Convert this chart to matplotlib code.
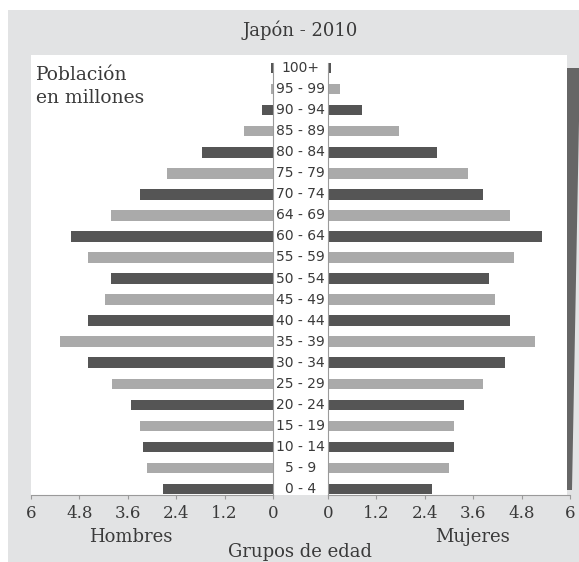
import matplotlib
matplotlib.use("Agg")
import matplotlib.pyplot as plt
from matplotlib.patches import Rectangle, Polygon
from matplotlib.transforms import blended_transform_factory

# Datos: poblacion en millones por grupo de edad (de abajo hacia arriba)
grupos = ["0 - 4", "5 - 9", "10 - 14", "15 - 19", "20 - 24", "25 - 29",
          "30 - 34", "35 - 39", "40 - 44", "45 - 49", "50 - 54", "55 - 59",
          "60 - 64", "64 - 69", "70 - 74", "75 - 79", "80 - 84", "85 - 89",
          "90 - 94", "95 - 99", "100+"]
hombres = [2.73, 3.12, 3.23, 3.30, 3.52, 4.00, 4.59, 5.28, 4.59, 4.17, 4.02,
           4.59, 5.01, 4.02, 3.30, 2.63, 1.76, 0.72, 0.27, 0.05, 0.04]
mujeres = [2.58, 3.00, 3.13, 3.13, 3.37, 3.85, 4.39, 5.14, 4.52, 4.14, 4.00,
           4.62, 5.31, 4.52, 3.85, 3.47, 2.70, 1.76, 0.84, 0.30, 0.07]
ticks = [0, 1.2, 2.4, 3.6, 4.8, 6]
tick_labels = ["0", "1.2", "2.4", "3.6", "4.8", "6"]

W, H = 579, 562
OSCURO = "#555555"
CLARO = "#aaaaaa"
FONDO = "#e2e3e4"
TEXTO = "#3a3a3a"
LINEA = "#9a9a9a"
SERIF = "DejaVu Serif"


def fx(px):
    return px / W


def fy(py):
    return 1 - py / H


colores = [OSCURO if i % 2 == 0 else CLARO for i in range(len(grupos))]
pos = list(range(len(grupos)))

fig = plt.figure(figsize=(W / 100, H / 100), dpi=100)
fig.patch.set_facecolor("white")

# fondo gris y panel blanco
fig.add_artist(Rectangle((fx(8), 0), 1, fy(10), transform=fig.transFigure,
                         facecolor=FONDO, edgecolor="none", zorder=0))
fig.add_artist(Rectangle((fx(31), fy(495)), fx(567) - fx(31), fy(55) - fy(495),
                         transform=fig.transFigure, facecolor="white",
                         edgecolor="none", zorder=0))
fig.add_artist(Polygon([(fx(567), fy(68)), (fx(580), fy(68)),
                        (fx(572), fy(490)), (fx(567), fy(490))],
                       closed=True, transform=fig.transFigure,
                       facecolor="#666666", edgecolor="none", zorder=0))

y0 = fy(495)
alto = fy(63) - fy(495)
ax_l = fig.add_axes([fx(31), y0, fx(273) - fx(31), alto])
ax_r = fig.add_axes([fx(328), y0, fx(570) - fx(328), alto])

ax_l.barh(pos, hombres, height=0.5, color=colores)
ax_r.barh(pos, mujeres, height=0.5, color=colores)

for ax in (ax_l, ax_r):
    ax.patch.set_visible(False)
    ax.set_ylim(-0.285, 20.24)
    ax.set_yticks([])
    ax.set_xticks(ticks)
    ax.set_xticklabels(tick_labels, fontfamily=SERIF, fontsize=12, color=TEXTO)
    ax.tick_params(axis="x", length=3, color=LINEA, pad=4)
    ax.spines["top"].set_visible(False)
    ax.spines["bottom"].set_color(LINEA)

ax_l.set_xlim(6, 0)
ax_r.set_xlim(0, 6)
ax_l.spines["left"].set_visible(False)
ax_l.spines["right"].set_color(LINEA)
ax_r.spines["right"].set_visible(False)
ax_r.spines["left"].set_color(LINEA)

# etiquetas de grupos de edad en la columna central
tr = blended_transform_factory(fig.transFigure, ax_l.transData)
for p, g in zip(pos, grupos):
    ax_l.text(fx(300.5), p, g, transform=tr, ha="center", va="center",
              fontsize=10, color=TEXTO, fontfamily="DejaVu Sans",
              clip_on=False)

fig.text(fx(300), fy(30), "Japón - 2010", ha="center", va="center",
         fontfamily=SERIF, fontsize=13, color=TEXTO)
fig.text(fx(36), fy(75), "Población", ha="left", va="center",
         fontfamily=SERIF, fontsize=13.5, color=TEXTO)
fig.text(fx(36), fy(98), "en millones", ha="left", va="center",
         fontfamily=SERIF, fontsize=13.5, color=TEXTO)
fig.text(fx(131), fy(537), "Hombres", ha="center", va="center",
         fontfamily=SERIF, fontsize=13, color=TEXTO)
fig.text(fx(473), fy(537), "Mujeres", ha="center", va="center",
         fontfamily=SERIF, fontsize=13, color=TEXTO)
fig.text(fx(300), fy(552), "Grupos de edad", ha="center", va="center",
         fontfamily=SERIF, fontsize=13, color=TEXTO)

fig.savefig("out.png", dpi=100)
